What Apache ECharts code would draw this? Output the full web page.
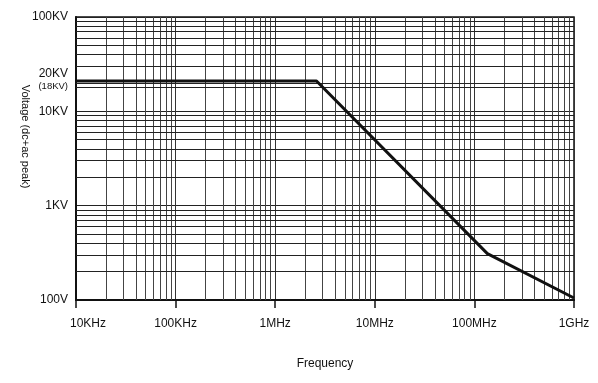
<!DOCTYPE html>
<html>
<head>
<meta charset="utf-8">
<script src="https://cdn.jsdelivr.net/npm/echarts@6/dist/echarts.min.js"></script>
<style>
html,body{margin:0;padding:0;background:#fff;}
#c{width:598px;height:383px;}
</style>
</head>
<body>
<div id="c"></div>
<script>
// Data
const frequencyHz = [1e4, 2.6e6, 1.35e8, 1e9];
const voltageV = [21000, 21000, 310, 105];

// Axis tick labels
const xTickValues = [1e4, 1e5, 1e6, 1e7, 1e8, 1e9];
const xTickLabels = ['10KHz', '100KHz', '1MHz', '10MHz', '100MHz', '1GHz'];
const yTickValues = [100, 1000, 10000, 20000, 100000];
const yTickLabels = ['100V', '1KV', '10KV', '20KV', '100KV'];
const yExtraNote = '(18KV)';

// Minor grid values (graph paper lines)
const xDecades = [1e4, 1e5, 1e6, 1e7, 1e8];
const yDecades = [100, 1000, 10000];
const multipliers = [2, 3, 4, 5, 6, 7, 8, 9];
const yExtraGrid = [18000];

const xMinor = [];
xDecades.forEach(d => multipliers.forEach(m => xMinor.push(d * m)));
const yMinor = [];
yDecades.forEach(d => multipliers.forEach(m => yMinor.push(d * m)));
yExtraGrid.forEach(v => yMinor.push(v));

const font = 'Arial, "Liberation Sans", sans-serif';

const chart = echarts.init(document.getElementById('c'), null, {renderer: 'canvas'});
chart.setOption({
  animation: false,
  backgroundColor: '#fff',
  grid: {left: 76, right: 24, top: 17, bottom: 83, show: true, borderColor: '#111', borderWidth: 1.5},
  xAxis: {
    type: 'log', logBase: 10, min: 1e4, max: 1e9,
    name: 'Frequency', nameLocation: 'middle', nameGap: 58,
    nameTextStyle: {fontFamily: font, fontSize: 12, color: '#111'},
    axisLine: {show: true, lineStyle: {color: '#111', width: 2}},
    axisTick: {show: true, length: 8, lineStyle: {color: '#111', width: 1.5}},
    splitLine: {show: true, lineStyle: {color: '#333', width: 1}},
    axisLabel: {
      fontFamily: font, fontSize: 12, color: '#111', margin: 18,
      formatter: function (v) {
        const i = xTickValues.findIndex(t => Math.abs(t - v) / t < 1e-6);
        if (i < 0) return '';
        return i === 0 ? '{first|' + xTickLabels[i] + '}' : xTickLabels[i];
      },
      rich: {first: {fontFamily: font, fontSize: 12, color: '#111', padding: [0, 0, 0, 24]}}
    }
  },
  yAxis: {
    type: 'log', logBase: 10, min: 100, max: 100000,
    name: 'Voltage (dc+ac peak)', nameLocation: 'middle', nameGap: 45, nameRotate: -90,
    nameMoveOverlap: false,
    nameTextStyle: {fontFamily: font, fontSize: 11, color: '#111', padding: [0, 44, 0, 0]},
    axisLine: {show: true, lineStyle: {color: '#111', width: 2}},
    axisTick: {show: false},
    splitLine: {show: true, lineStyle: {color: '#222', width: 1}},
    axisLabel: {
      customValues: yTickValues,
      fontFamily: font, fontSize: 12, color: '#111', margin: 8,
      formatter: function (v) {
        const i = yTickValues.findIndex(t => Math.abs(t - v) / t < 1e-6);
        if (i < 0) return '';
        if (yTickValues[i] === 20000) return '{a|' + yTickLabels[i] + '}\n{b|' + yExtraNote + '}\n{c| }';
        return yTickLabels[i];
      },
      rich: {
        a: {fontFamily: font, fontSize: 12, color: '#111', align: 'right', lineHeight: 13},
        b: {fontFamily: font, fontSize: 9.5, color: '#111', align: 'right', lineHeight: 12},
        c: {fontSize: 4, lineHeight: 6}
      }
    }
  },
  series: [
    {
      type: 'line', silent: true, symbol: 'none', data: [],
      markLine: {
        silent: true, symbol: 'none', animation: false,
        label: {show: false}, emphasis: {disabled: true},
        lineStyle: {color: '#444', width: 1, type: 'solid'},
        data: xMinor.map(v => ({xAxis: v}))
      }
    },
    {
      type: 'line', silent: true, symbol: 'none', data: [],
      markLine: {
        silent: true, symbol: 'none', animation: false,
        label: {show: false}, emphasis: {disabled: true},
        lineStyle: {color: '#222', width: 1, type: 'solid'},
        data: yMinor.map(v => ({yAxis: v}))
      }
    },
    {
      type: 'line', symbol: 'none', silent: true, z: 10,
      lineStyle: {color: '#111', width: 3},
      data: frequencyHz.map((f, i) => [f, voltageV[i]])
    }
  ]
});
</script>
</body>
</html>
